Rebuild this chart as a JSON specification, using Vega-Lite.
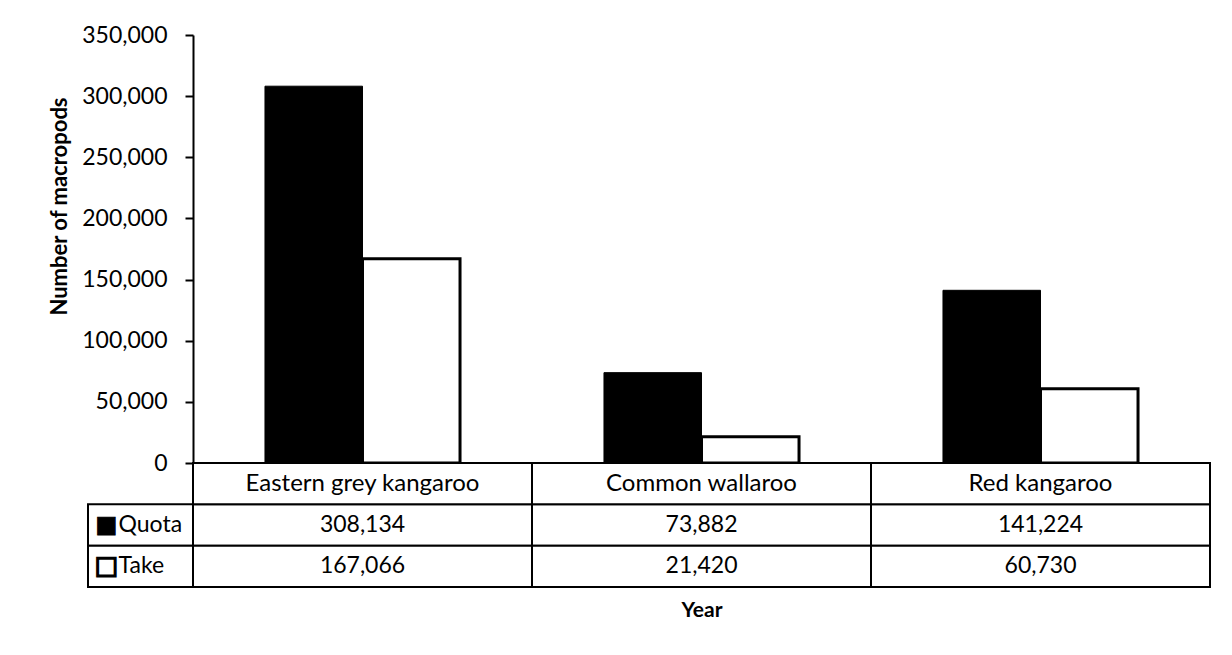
{
  "$schema": "https://vega.github.io/schema/vega-lite/v6.json",
  "padding": {"left": 48, "top": 24, "right": 22, "bottom": 30},
  "background": "white",
  "config": {"view": {"stroke": null}, "font": "Lato", "text": {"color": "black"}},
  "datasets": {
    "d": [
      {"species": "Eastern grey kangaroo", "series": "Quota", "value": 308134},
      {"species": "Eastern grey kangaroo", "series": "Take", "value": 167066},
      {"species": "Common wallaroo", "series": "Quota", "value": 73882},
      {"species": "Common wallaroo", "series": "Take", "value": 21420},
      {"species": "Red kangaroo", "series": "Quota", "value": 141224},
      {"species": "Red kangaroo", "series": "Take", "value": 60730}
    ],
    "s": [{"series": "Quota"}, {"series": "Take"}]
  },
  "columns": 2,
  "spacing": 0,
  "bounds": "flush",
  "align": "each",
  "concat": [
    {
      "width": 105,
      "height": 428,
      "data": {"values": []},
      "mark": "point"
    },
    {
      "width": 1017,
      "height": 428,
      "data": {"name": "d"},
      "mark": {"type": "bar", "stroke": "black"},
      "encoding": {
        "x": {"field": "species", "type": "nominal", "scale": {"type": "band", "domain": ["Eastern grey kangaroo", "Common wallaroo", "Red kangaroo"], "paddingInner": 0, "paddingOuter": 0}, "axis": null},
        "xOffset": {"field": "series", "type": "nominal", "scale": {"domain": ["Quota", "Take"], "paddingInner": 0, "paddingOuter": 0.738}},
        "y": {
          "field": "value", "type": "quantitative",
          "scale": {"domain": [0, 350000], "nice": false},
          "title": "Number of macropods",
          "axis": {
            "values": [0, 50000, 100000, 150000, 200000, 250000, 300000, 350000],
            "format": ",d",
            "grid": false,
            "labelFont": "Lato", "labelFontSize": 23, "labelColor": "black", "labelPadding": 18,
            "tickSize": 8, "tickColor": "black", "tickWidth": 2,
            "domainColor": "black", "domainWidth": 2,
            "titleFont": "Lato", "titleFontSize": 22, "titleFontWeight": "bold", "titleColor": "black", "titlePadding": 10, "titleY": 171
          }
        },
        "fill": {"field": "series", "type": "nominal", "scale": {"domain": ["Quota", "Take"], "range": ["#000000", "#ffffff"]}, "legend": null},
        "strokeWidth": {"field": "series", "type": "ordinal", "scale": {"domain": ["Quota", "Take"], "range": [1, 3]}, "legend": null}
      }
    },
    {
      "width": 105,
      "height": 124,
      "data": {"name": "s"},
      "encoding": {
        "y": {"field": "series", "type": "nominal", "scale": {"type": "band", "domain": ["header", "Quota", "Take"], "paddingInner": 0, "paddingOuter": 0}, "axis": null}
      },
      "layer": [
        {"mark": {"type": "rect", "fill": "white", "stroke": "black", "strokeWidth": 2}},
        {
          "mark": {"type": "text", "text": "■", "font": "DejaVu Sans", "fontSize": 23, "align": "left", "dx": -45, "stroke": "black"},
          "encoding": {
            "fill": {"field": "series", "type": "nominal", "scale": {"domain": ["Quota", "Take"], "range": ["#000000", "#ffffff"]}, "legend": null},
            "strokeWidth": {"field": "series", "type": "ordinal", "scale": {"domain": ["Quota", "Take"], "range": [2, 4]}, "legend": null}
          }
        },
        {
          "mark": {"type": "text", "align": "left", "dx": -22, "fontSize": 23, "font": "Lato", "color": "black"},
          "encoding": {"text": {"field": "series", "type": "nominal"}}
        }
      ]
    },
    {
      "width": 1017,
      "height": 124,
      "data": {"name": "d"},
      "encoding": {
        "x": {"field": "species", "type": "nominal", "scale": {"type": "band", "domain": ["Eastern grey kangaroo", "Common wallaroo", "Red kangaroo"], "paddingInner": 0, "paddingOuter": 0},
              "axis": {"title": "Year", "labels": false, "ticks": false, "domain": false, "titleFont": "Lato", "titleFontSize": 21, "titleFontWeight": "bold", "titleColor": "black", "titlePadding": 12}},
        "y": {"field": "series", "type": "nominal", "scale": {"type": "band", "domain": ["header", "Quota", "Take"], "paddingInner": 0, "paddingOuter": 0}, "axis": null}
      },
      "layer": [
        {"mark": {"type": "rect", "fill": "white", "stroke": "black", "strokeWidth": 2}},
        {"mark": {"type": "text", "fontSize": 23, "font": "Lato", "color": "black"}, "encoding": {"text": {"field": "value", "type": "quantitative", "format": ",d"}}},
        {"transform": [{"filter": "datum.series === 'Quota'"}], "mark": {"type": "rect", "fill": "white", "stroke": "black", "strokeWidth": 2}, "encoding": {"y": {"datum": "header", "type": "nominal"}}},
        {"transform": [{"filter": "datum.series === 'Quota'"}], "mark": {"type": "text", "fontSize": 24, "font": "Lato", "color": "black"}, "encoding": {"y": {"datum": "header", "type": "nominal"}, "text": {"field": "species", "type": "nominal"}}}
      ]
    }
  ]
}
